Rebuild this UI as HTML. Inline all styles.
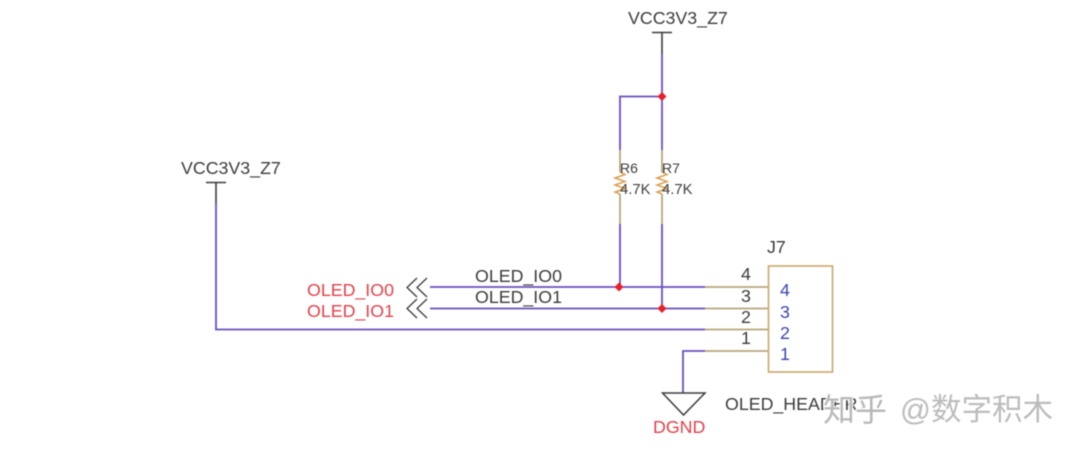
<!DOCTYPE html>
<html>
<head>
<meta charset="utf-8">
<style>
html,body{margin:0;padding:0;background:#fff;width:1080px;height:454px;overflow:hidden}
svg{display:block;filter:blur(.5px)}
text{font-family:"Liberation Sans","Noto Sans CJK SC",sans-serif}
</style>
</head>
<body>
<svg width="1080" height="454" viewBox="0 0 1080 454" xmlns="http://www.w3.org/2000/svg">
<rect width="1080" height="454" fill="#fff"/>
<!-- power symbols -->
<g stroke="#3c3c3c" stroke-width="1.600" fill="none">
<path d="M652 32.500H672M662 32V54"/>
<path d="M206 182.500H226M216 182V203"/>
</g>
<text x="628" y="24" font-size="17.800" fill="#3c3c3c">VCC3V3_Z7</text>
<text x="181" y="174" font-size="17.800" fill="#3c3c3c">VCC3V3_Z7</text>
<!-- purple wires -->
<g stroke="#6a4fc0" stroke-width="1.800" fill="none">
<path d="M662 54V150M662 224V309"/>
<path d="M620 150V96.500H662M620 224V287"/>
<path d="M216 203V329.500H705"/>
<path d="M430 287H705"/>
<path d="M430 308.500H705"/>
<path d="M683 393V351H705"/>
</g>
<!-- tan wires -->
<g stroke="#b9a77c" stroke-width="1.800" fill="none">
<path d="M620 150V172M620 194V224"/>
<path d="M662 150V172M662 194V224"/>
<path d="M705 287H768M705 308.500H768M705 329.500H768M705 351H768"/>
</g>
<!-- resistors -->
<g stroke="#d9a050" stroke-width="1.500" fill="none">
<path d="M620 172L625 174.500L615 178L625 181.500L615 185L625 188.500L615 192L620 194"/>
<path d="M662 172L667 174.500L657 178L667 181.500L657 185L667 188.500L657 192L662 194"/>
</g>
<text x="620" y="173" font-size="14" fill="#3c3c3c">R6</text>
<text x="662" y="173" font-size="14" fill="#3c3c3c">R7</text>
<text x="620" y="194" font-size="14.800" fill="#3c3c3c">4.7K</text>
<text x="662" y="194" font-size="14.800" fill="#3c3c3c">4.7K</text>
<!-- junctions -->
<g fill="#e8202a">
<path d="M662 92L666.500 96.500L662 101L657.500 96.500Z"/>
<path d="M619 282.500L623.500 287L619 291.500L614.500 287Z"/>
<path d="M662 304L666.500 308.500L662 313L657.500 308.500Z"/>
</g>
<!-- off-sheet connectors -->
<g stroke="#3c3c3c" stroke-width="1.300" fill="none">
<path d="M417 278L407 287.500L417 297"/>
<path d="M427 278L417 287.500L427 297"/>
<path d="M417 299L407 308.500L417 318"/>
<path d="M427 299L417 308.500L427 318"/>
</g>
<text x="307" y="296" font-size="17.800" fill="#e5404a">OLED_IO0</text>
<text x="307" y="317" font-size="17.800" fill="#e5404a">OLED_IO1</text>
<text x="475" y="282" font-size="17.800" fill="#3c3c3c">OLED_IO0</text>
<text x="475" y="303" font-size="17.800" fill="#3c3c3c">OLED_IO1</text>
<!-- connector -->
<rect x="768.500" y="266" width="64" height="106" fill="#fff" stroke="#c9a868" stroke-width="1.600"/>
<text x="767" y="253" font-size="17.800" fill="#3c3c3c">J7</text>
<g font-size="17.800" fill="#3c3c3c">
<text x="741" y="280">4</text>
<text x="741" y="302">3</text>
<text x="741" y="323">2</text>
<text x="741" y="344">1</text>
</g>
<g font-size="17.800" fill="#3a45b0">
<text x="780" y="296">4</text>
<text x="780" y="318">3</text>
<text x="780" y="339">2</text>
<text x="780" y="360">1</text>
</g>
<!-- ground -->
<path d="M662.500 393H705L683.500 415Z" fill="#fff" stroke="#3c3c3c" stroke-width="1.500"/>
<text x="653" y="433" font-size="17.800" fill="#e5404a">DGND</text>
<text x="725" y="410" font-size="17.800" fill="#3c3c3c">OLED_HEADER1</text>
<!-- watermark -->
<text x="823" y="421" font-size="32" fill="#fff" stroke="#fff" stroke-width="2">知乎</text>
<text x="823" y="421" font-size="32" fill="#b8b8b8">知乎</text>
<text x="900" y="420" font-size="30.500" fill="#fff" stroke="#fff" stroke-width="2">@数字积木</text>
<text x="900" y="420" font-size="30.500" fill="#bcbcbc">@数字积木</text>
</svg>
</body>
</html>
